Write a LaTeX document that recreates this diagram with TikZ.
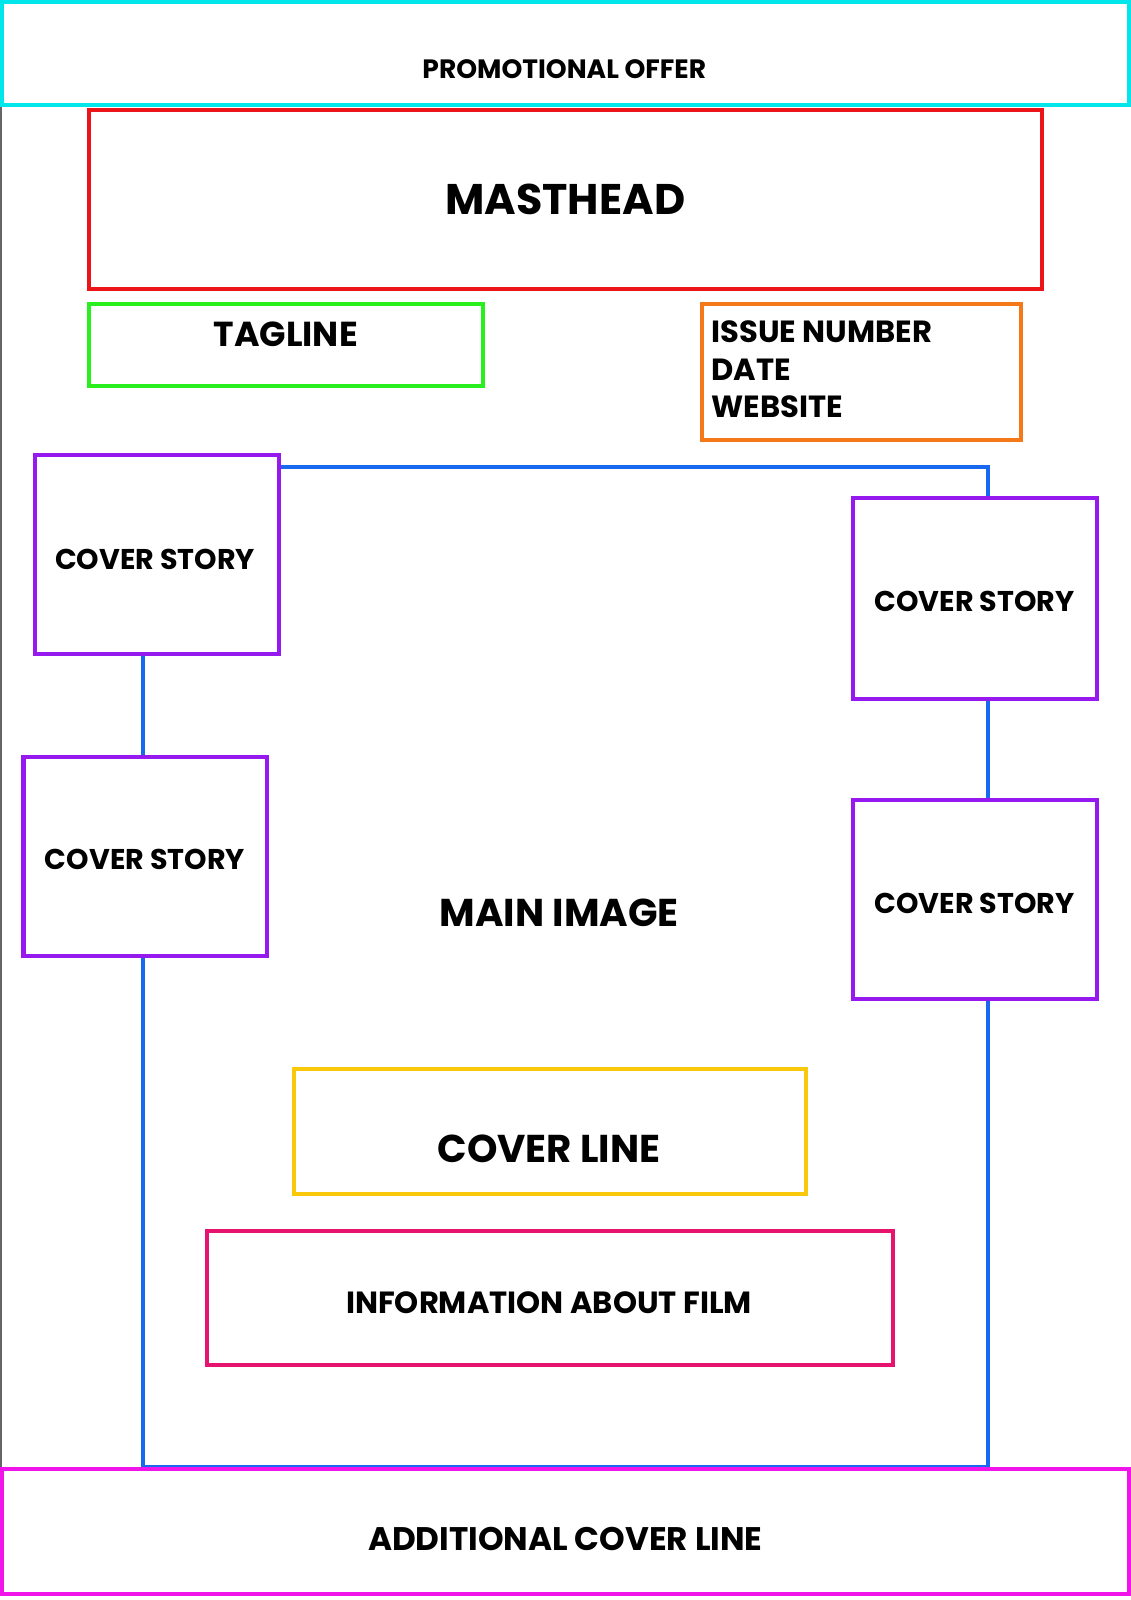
\documentclass[tikz,border=0pt]{standalone}
\usepackage{fontspec}
\setmainfont{Poppins}
\usetikzlibrary{fit}
\definecolor{cy}{RGB}{0,230,235}
\definecolor{rd}{RGB}{235,20,25}
\definecolor{gr}{RGB}{40,240,30}
\definecolor{org}{RGB}{245,120,25}
\definecolor{bl}{RGB}{25,105,240}
\definecolor{pu}{RGB}{150,25,240}
\definecolor{ye}{RGB}{250,200,10}
\definecolor{cr}{RGB}{230,20,110}
\definecolor{mg}{RGB}{240,20,235}
\begin{document}
\begin{tikzpicture}[x=0.5pt,y=-0.5pt,
  box/.style={draw=#1,line width=2pt,fill=white,inner sep=0pt},
  lbl/.style={font=\fontsize{#1}{#1}\selectfont\bfseries,inner sep=0pt}]
\useasboundingbox (0,0) rectangle (1108,1568);
\draw[black!60,line width=0.6pt] (1,100) -- (1,1445);
\draw[bl,line width=2pt] (140,458) rectangle (968,1438);
\node[box=cy,fit={(2,2) (1106,103)}] (promo) {};
\node[lbl=13] (promot) at (553,68) {PROMOTIONAL OFFER};
\node[box=rd,fit={(87,108) (1021,283)}] (mast) {};
\node[lbl=21] (mastt) at (554,195) {MASTHEAD};
\node[box=gr,fit={(87,298) (473,378)}] (tag) {};
\node[lbl=17] (tagt) at (280,328) {TAGLINE};
\node[box=org,fit={(688,298) (1001,431)}] (iss) {};
\node[lbl=15,anchor=west,align=left,font=\fontsize{15}{18.5}\selectfont\bfseries] (isst) at (697,362) {ISSUE NUMBER\\DATE\\WEBSITE};
\node[box=pu,fit={(34,446) (273,641)}] (cs1) {};
\node[lbl=14] at (152,548) {COVER STORY};
\node[box=pu,fit={(23,742) (262,937)}] (cs2) {};
\node[lbl=14] at (142,842) {COVER STORY};
\node[box=pu,fit={(836,488) (1075,685)}] (cs3) {};
\node[lbl=14] at (955,589) {COVER STORY};
\node[box=pu,fit={(836,784) (1075,979)}] (cs4) {};
\node[lbl=14] at (955,885) {COVER STORY};
\node[lbl=19] (main) at (548,895) {MAIN IMAGE};
\node[box=ye,fit={(288,1048) (790,1170)}] (cl) {};
\node[lbl=19] at (538,1126) {COVER LINE};
\node[box=cr,fit={(203,1206) (875,1338)}] (info) {};
\node[lbl=15] at (538,1277) {INFORMATION ABOUT FILM};
\node[box=mg,fit={(2,1440) (1106,1562)}] (add) {};
\node[lbl=16] at (554,1508) {ADDITIONAL COVER LINE};
\end{tikzpicture}
\end{document}
